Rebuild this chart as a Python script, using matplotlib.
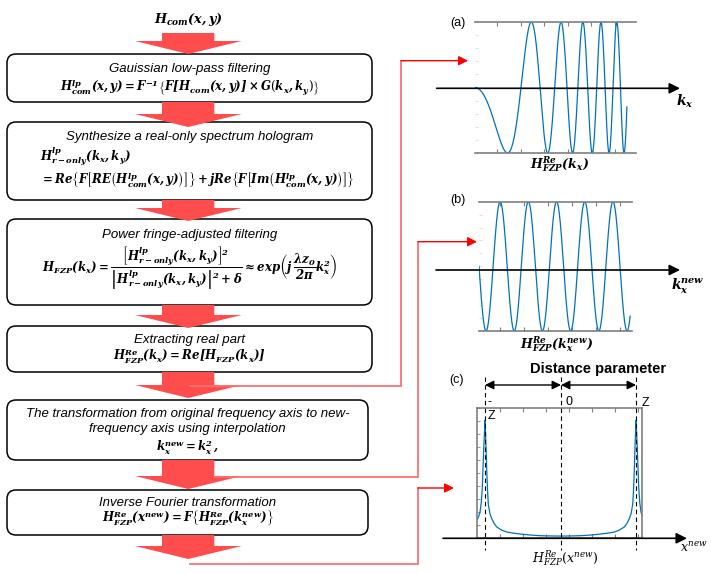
import numpy as np
import matplotlib.pyplot as plt
from matplotlib.patches import FancyBboxPatch, Polygon

plt.rcParams['font.family'] = ['Liberation Sans', 'DejaVu Sans']
plt.rcParams['mathtext.fontset'] = 'dejavuserif'

W, H = 711, 574


def bfit(s):
    return r'$\mathbfit{' + s + '}$'


# ---- flowchart text ----
top_input = r'H_{com}(x,y)'
step_titles = [
    'Gauissian low-pass filtering',
    'Synthesize a real-only spectrum hologram',
    'Power fringe-adjusted filtering',
    'Extracting real part',
    'The transformation from original frequency axis to new-\nfrequency axis using interpolation',
    'Inverse Fourier transformation',
]
step_formulas = [
    r'H^{lp}_{com}(x,y)=F^{-1}\left\{F[H_{com}(x,y)]\times G\left(k_x,k_y\right)\right\}',
    None,
    r'H_{FZP}(k_x)=\dfrac{\left[H^{lp}_{r-only}(k_x,k_y)\right]^2}'
    r'{\left|H^{lp}_{r-only}(k_x,k_y)\right|^2+\delta}'
    r'\approx exp\left(j\,\dfrac{\lambda z_0}{2\pi}k_x^2\right)',
    r'H^{Re}_{FZP}(k_x)=Re[H_{FZP}(k_x)]',
    r'k_x^{new}=k_x^2\,,',
    r'H^{Re}_{FZP}(x^{new})=F\left\{H^{Re}_{FZP}(k_x^{new})\right\}',
]
synth_lines = [
    r'H^{lp}_{r-only}(k_x,k_y)',
    r'=Re\left\{F\left[RE\left(H^{lp}_{com}(x,y)\right)\right]\right\}'
    r'+jRe\left\{F\left[Im\left(H^{lp}_{com}(x,y)\right)\right]\right\}',
]

# ---- panel data ----
panel_labels = ['(a)', '(b)', '(c)']
# (a) chirp: H = Re[exp(j(a k^2 + phi))]
k_a = np.linspace(0, 4.67, 900)
chirp_a = np.pi / 2
phase_a = np.pi / 2
# (b) after k_new = k^2 the fringe is a plain cosine
k_b = np.linspace(0, 5.36, 600)
phase_b = np.pi / 2
# (c) inverse FT: left half, mirrored
x_c_half = [-1.106, -1.085, -1.066, -1.05, -1.036, -1.016, -1.0, -0.993, -0.984,
            -0.977, -0.966, -0.956, -0.935, -0.911, -0.88, -0.845, -0.78,
            -0.713, -0.62, -0.536, -0.4, -0.272, -0.13, 0.0]
h_c_half = [0.14, 0.165, 0.2, 0.27, 0.385, 0.7, 0.905, 0.8, 0.66,
            0.52, 0.36, 0.26, 0.19, 0.15, 0.115, 0.087, 0.063,
            0.048, 0.039, 0.033, 0.025, 0.02, 0.018, 0.017]
axis_labels = [r'k_x', r'k_x^{new}', r'$x^{new}$']
value_labels = [r'H^{Re}_{FZP}(k_x)', r'H^{Re}_{FZP}(k_x^{new})',
                r'$H^{Re}_{FZP}(x^{new})$']
dist_marks = ['-', '0', 'Z', 'Z']

blue = '#0072BD'
red_block = '#ff4d4d'

fig = plt.figure(figsize=(W / 100, H / 100), dpi=100)


def px_axes(x0, y0, x1, y1, z=1):
    return fig.add_axes([x0 / W, 1 - y1 / H, (x1 - x0) / W, (y1 - y0) / H], zorder=z)


def style_panel(ax, xt, yt, left_vis=False):
    for s in ['left', 'right']:
        ax.spines[s].set_visible(left_vis)
    for s in ax.spines.values():
        s.set_color('#7f7f7f')
        s.set_linewidth(1.2)
    ax.set_facecolor('none')
    ax.set_xticks(xt)
    ax.set_yticks(yt)
    ax.tick_params(direction='in', length=3, width=0.8, color='#7f7f7f',
                   top=True, labelbottom=False, labelleft=False)
    ax.tick_params(axis='y', color='#e0e0e0' if not left_vis else '#9a9a9a', length=2)


# panel (a)
axa = px_axes(475, 22, 636, 153)
axa.plot(k_a, np.cos(chirp_a * k_a ** 2 + phase_a), color=blue, lw=0.9)
axa.set_xlim(0, 4.95)
axa.set_ylim(-1, 1)
style_panel(axa, (497 - 475 + 23.6 * np.arange(6)) / 32.5, np.linspace(-1, 1, 11))

# panel (b)
axb = px_axes(479, 201.7, 632, 331)
axb.plot(k_b, np.cos(2 * np.pi * k_b + phase_b), color=blue, lw=0.9)
axb.set_xlim(0, 153 / 28.2)
axb.set_ylim(-1, 1)
style_panel(axb, (500 - 479 + 23.9 * np.arange(6)) / 28.2, np.linspace(-1, 1, 11))

# panel (c)
x_c = np.concatenate([x_c_half, -np.array(x_c_half[::-1][1:])])
h_c = np.concatenate([h_c_half, h_c_half[::-1][1:]])
axc = px_axes(476.7, 407.7, 642.3, 538.3)
axc.plot(x_c, h_c, color=blue, lw=0.9)
axc.set_xlim(-1.11, 1.083)
axc.set_ylim(0, 1)
style_panel(axc, (-1.11 + (23 * np.arange(1, 8)) / 75.5), np.linspace(0, 1, 11), left_vis=True)

# ---- overlay in pixel coordinates ----
ax = fig.add_axes([0, 0, 1, 1], zorder=3)
ax.set_xlim(0, W)
ax.set_ylim(H, 0)
ax.set_facecolor('none')
ax.axis('off')

math_fs = 8.5
ax.text(188, 20, bfit(top_input), fontsize=9.2, ha='center', va='center')

boxes = [(7, 54, 372, 102), (7, 122, 372, 200), (7, 219, 372, 305),
         (7, 326, 372, 372), (7, 400, 368, 460), (7, 490, 368, 535)]
for x0, y0, x1, y1 in boxes:
    ax.add_patch(FancyBboxPatch((x0, y0), x1 - x0, y1 - y0,
                                boxstyle='round,pad=0,rounding_size=9',
                                fc='white', ec='black', lw=1.1, zorder=2))

# red block arrows (top, tip)
block_arrows = [(33, 54), (102, 127), (200, 221), (305, 328),
                (372, 398), (460, 489), (535, 559)]
for top, tip in block_arrows:
    base = tip - 13
    pts = [(162, top), (214.3, top), (214.3, base), (241.7, base),
           (188.3, tip), (135, base), (162, base)]
    ax.add_patch(Polygon(pts, closed=True, fc=red_block, ec='none', zorder=3))

# step titles and formulas
title_y = [69, 137, 235, 340, 414, 503]
formula_y = [87, None, 268, 356, 447, 518]
for i, t in enumerate(step_titles):
    cx = (boxes[i][0] + boxes[i][2]) / 2
    for j, line in enumerate(t.split('\n')):
        ax.text(cx, title_y[i] + 15 * j, line, fontsize=9.5, style='italic',
                ha='center', va='center', zorder=4)
    if step_formulas[i] is not None:
        ax.text(cx, formula_y[i], bfit(step_formulas[i]), fontsize=math_fs,
                ha='center', va='center', zorder=4)
ax.text(40, 156, bfit(synth_lines[0]), fontsize=math_fs, ha='left', va='center', zorder=4)
ax.text(40, 180, bfit(synth_lines[1]), fontsize=math_fs, ha='left', va='center', zorder=4)

# red connectors
pink = '#ff7070'
conn = [
    [(190, 385.5), (401, 385.5), (401, 60.7)],
    [(214, 476.5), (418, 476.5), (418, 241.7)],
    [(190, 564), (418, 564), (418, 488)],
]
conn_tips = [(468, 60.7), (477, 241.7), (454, 488)]
for path, tip in zip(conn, conn_tips):
    xs, ys = zip(*path)
    ax.plot(xs, ys, color=pink, lw=1.3, zorder=5, solid_joinstyle='miter')
    ax.annotate('', xy=tip, xytext=path[-1],
                arrowprops=dict(arrowstyle='-|>', color='#ff0000', lw=1.0,
                                mutation_scale=14, shrinkA=0, shrinkB=0), zorder=5)

# black axis arrows for the panels
axis_y = [88.3, 270, 538.3]
axis_x = [(436.7, 680), (436, 680), (443, 687)]
for yy, (xa, xb) in zip(axis_y, axis_x):
    ax.annotate('', xy=(xb, yy), xytext=(xa, yy),
                arrowprops=dict(arrowstyle='-|>', color='black', lw=1.2,
                                mutation_scale=16, shrinkA=0, shrinkB=0), zorder=6)

ax.text(676, 101, bfit(axis_labels[0]), fontsize=10, ha='left', va='center')
ax.text(671, 286, bfit(axis_labels[1]), fontsize=10, ha='left', va='center')
ax.text(680, 548, axis_labels[2], fontsize=9, ha='left', va='center')
ax.text(560, 164, bfit(value_labels[0]), fontsize=9, ha='center', va='center')
ax.text(557, 344, bfit(value_labels[1]), fontsize=9, ha='center', va='center')
ax.text(565, 558, value_labels[2], fontsize=9, ha='center', va='center')

label_pos = [(458, 23), (458, 200), (457, 380)]
for lab, (lx, ly) in zip(panel_labels, label_pos):
    ax.text(lx, ly, lab, fontsize=9, ha='center', va='center')

# distance parameter annotation on (c)
for xd in [485, 561, 636]:
    ax.plot([xd, xd], [377, 550], color='black', lw=0.8, ls=(0, (4, 3)), zorder=6)
for xa, xb in [(485, 561), (561, 636)]:
    ax.annotate('', xy=(xb, 385), xytext=(xa, 385),
                arrowprops=dict(arrowstyle='<|-|>', color='black', lw=1.0,
                                mutation_scale=13, shrinkA=0, shrinkB=0), zorder=6)
ax.text(598, 369, 'Distance parameter', fontsize=10.5, fontweight='bold',
        ha='center', va='center')
mark_pos = [(489, 402), (569, 402), (645, 403), (491, 416)]
for m, (mx, my) in zip(dist_marks, mark_pos):
    ax.text(mx, my, m, fontsize=9, ha='center', va='center')

fig.savefig('out.png', dpi=100)
